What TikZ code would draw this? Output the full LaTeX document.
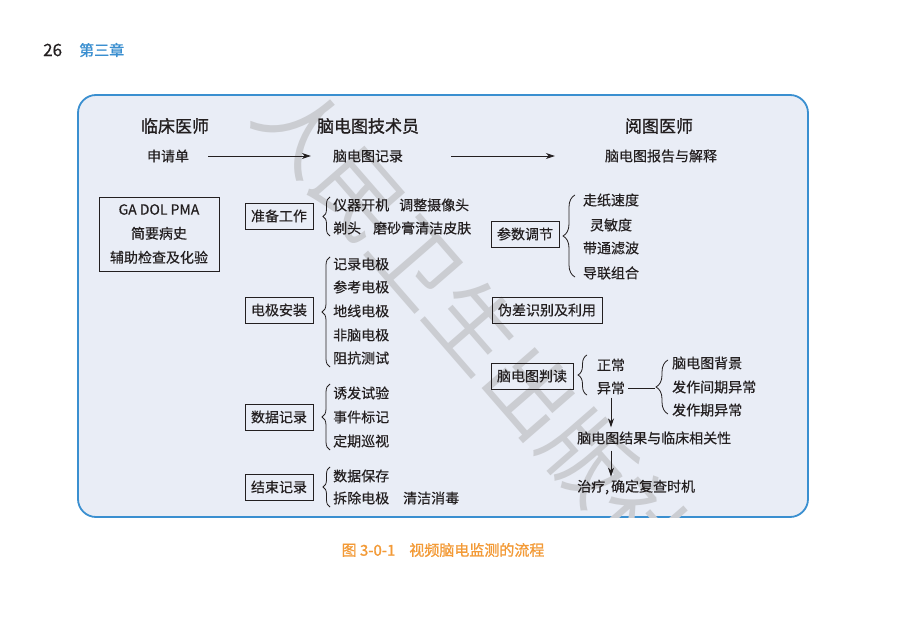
\documentclass[tikz,border=0pt]{standalone}
\usepackage{fontspec}
\setmainfont{Noto Sans CJK SC}[FakeBold=0.35]
\newfontfamily\headfont{Noto Sans CJK SC}[FakeBold=1.1]
\newfontfamily\wmfont{Noto Sans CJK SC}
\usetikzlibrary{arrows.meta,decorations.pathreplacing}
\definecolor{frameblue}{HTML}{3A8FD0}
\definecolor{panel}{HTML}{E9EDF6}
\definecolor{capor}{HTML}{F39A36}
\definecolor{txt}{HTML}{231F20}
\definecolor{wm}{HTML}{CBCDD2}
\begin{document}
\begin{tikzpicture}[x=1pt,y=-1pt,
  every node/.style={inner sep=0pt, text=txt},
  lbl/.style={font=\fontsize{14}{16}\selectfont},
  head/.style={font=\headfont\fontsize{17}{20}\selectfont},
  stepbox/.style={draw=txt, line width=0.9pt, font=\fontsize{14}{16}\selectfont, minimum height=26pt, inner xsep=6pt},
  arr/.style={-{Stealth[length=9pt,width=6pt]}, line width=0.8pt, draw=txt},
  brc/.style={decorate, decoration={brace, amplitude=#1}, line width=0.8pt, draw=txt},
]
\useasboundingbox[fill=white] (0,0) rectangle (900,636);

% page header
\node[font=\fontsize{17}{20}\selectfont, anchor=west] (pg) at (43,50) {26};
\node[font=\headfont\fontsize{15}{18}\selectfont, text=frameblue, anchor=west] (ch) at (79,50) {第三章};

% panel
\draw[fill=panel, draw=frameblue, line width=1.8pt, rounded corners=18pt] (78,95) rectangle (808,517);

% watermark
\begin{scope}
\clip[rounded corners=18pt] (78,95) rectangle (808,517);
\node[font=\wmfont\fontsize{87}{90}\selectfont, text=wm, rotate=-49] (wmk) at (474,326) {人民卫生出版社};
\end{scope}

% headers
\node[head] (h1) at (175,126) {临床医师};
\node[head] (h2) at (368,126) {脑电图技术员};
\node[head] (h3) at (659,126) {阅图医师};
\node[lbl] (req) at (168,156) {申请单};
\node[lbl] (rec) at (368,156) {脑电图记录};
\node[lbl] (rep) at (661,156) {脑电图报告与解释};
\draw[arr] ([xshift=19pt]req.east) -- ([xshift=-22pt]rec.west);
\draw[arr] ([xshift=48pt]rec.east) -- ([xshift=-50pt]rep.west);

% left info box
\node[draw=txt, line width=0.9pt, minimum width=120pt, minimum height=74pt, align=center,
      font=\fontsize{14}{24}\selectfont] (ga) at (159,234) {GA DOL PMA\\简要病史\\辅助检查及化验};

% 准备工作
\node[stepbox] (zb) at (279,216) {准备工作};
\draw[brc=7pt] (330,236) -- (330,197);
\node[lbl, anchor=west] (zb1) at (333,205) {仪器开机\hspace{10pt}调整摄像头};
\node[lbl, anchor=west] (zb2) at (333,228) {剃头\hspace{12pt}磨砂膏清洁皮肤};

% 电极安装
\node[stepbox] (dj) at (279,310) {电极安装};
\draw[brc=8pt] (330,367) -- (330,257);
\node[lbl, anchor=west] (dj1) at (333,264) {记录电极};
\node[lbl, anchor=west] (dj2) at (333,287) {参考电极};
\node[lbl, anchor=west] (dj3) at (333,311) {地线电极};
\node[lbl, anchor=west] (dj4) at (333,335) {非脑电极};
\node[lbl, anchor=west] (dj5) at (333,358) {阻抗测试};

% 数据记录
\node[stepbox] (sj) at (279,417) {数据记录};
\draw[brc=8pt] (330,450) -- (330,384);
\node[lbl, anchor=west] (sj1) at (333,393) {诱发试验};
\node[lbl, anchor=west] (sj2) at (333,417) {事件标记};
\node[lbl, anchor=west] (sj3) at (333,441) {定期巡视};

% 结束记录
\node[stepbox] (js) at (279,487) {结束记录};
\draw[brc=7pt] (330,507) -- (330,467);
\node[lbl, anchor=west] (js1) at (333,476) {数据保存};
\node[lbl, anchor=west] (js2) at (333,498) {拆除电极\hspace{14pt}清洁消毒};

% 参数调节
\node[stepbox] (cs) at (525,234) {参数调节};
\draw[brc=12pt] (575,277) -- (575,195);
\node[lbl] (cs1) at (611,200) {走纸速度};
\node[lbl] (cs2) at (611,225) {灵敏度};
\node[lbl] (cs3) at (611,248) {带通滤波};
\node[lbl] (cs4) at (611,273) {导联组合};

% 伪差识别及利用
\node[stepbox] (wc) at (547,310) {伪差识别及利用};

% 脑电图判读
\node[stepbox] (pd) at (532,376) {脑电图判读};
\draw[brc=9pt] (587,395) -- (587,355);
\node[lbl] (zc) at (611,365) {正常};
\node[lbl] (yc) at (611,388) {异常};
\coordinate (b2tip) at (655,387);
\draw[brc=12pt] (668,414) -- (668,360);
\draw[line width=0.8pt, draw=txt] ([xshift=3pt]yc.east) -- (yc.east -| b2tip);
\node[lbl, anchor=west] (yc1) at (672,363) {脑电图背景};
\node[lbl, anchor=west] (yc2) at (672,387) {发作间期异常};
\node[lbl, anchor=west] (yc3) at (672,410) {发作期异常};

\node[lbl, anchor=west] (res) at (577,438) {脑电图结果与临床相关性};
\node[lbl, anchor=west] (tx) at (577,487) {治疗,\hspace{2pt}确定复查时机};
\draw[arr, shorten <=3pt, shorten >=4pt] (yc.south) -- (yc.south |- res.north);
\draw[arr, shorten <=6pt, shorten >=3pt] (yc.south |- res.south) -- (yc.south |- tx.north);

% caption
\node[font=\headfont\fontsize{15}{18}\selectfont, text=capor] (cap) at (443,550) {图 3-0-1\hspace{14pt}视频脑电监测的流程};
\end{tikzpicture}
\end{document}
